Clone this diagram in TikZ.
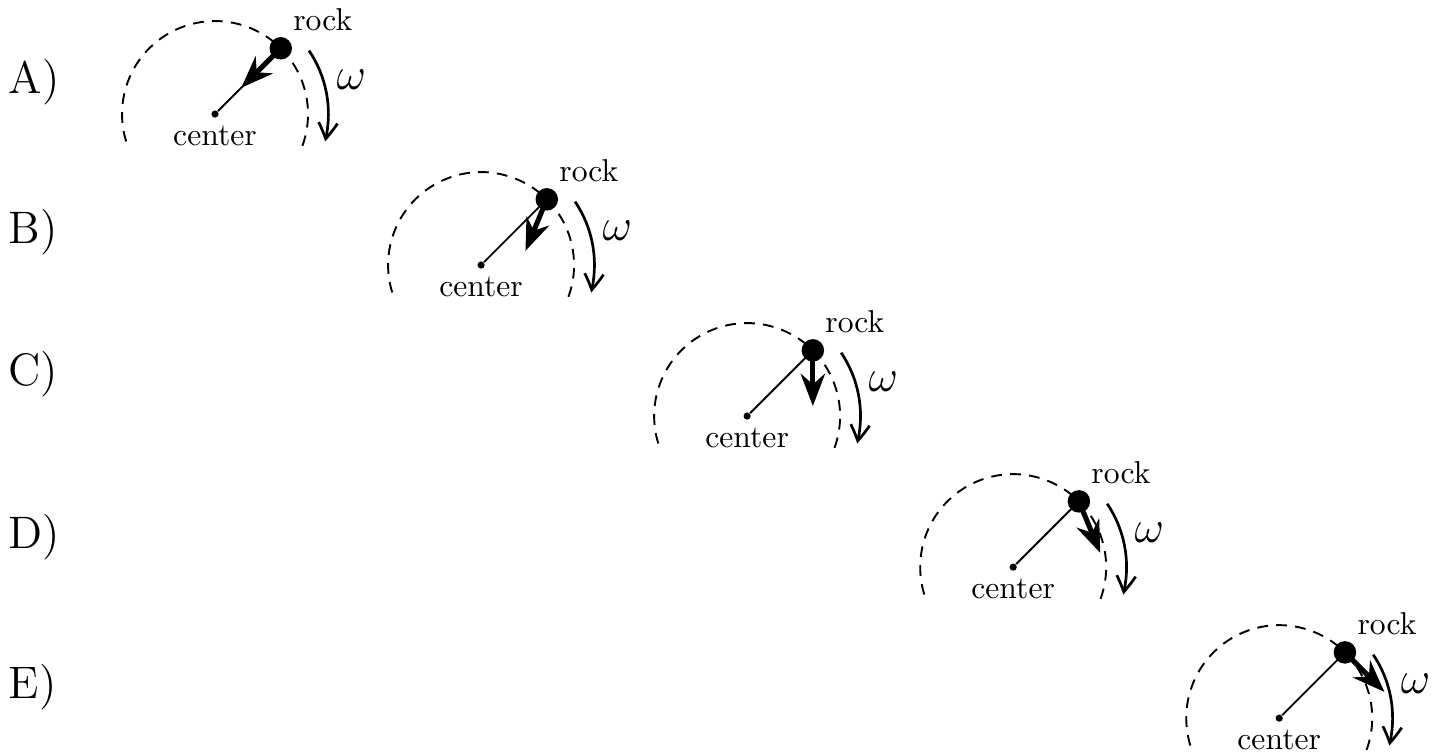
\documentclass[tikz,border=0pt]{standalone}
\usetikzlibrary{arrows.meta,bending,calc}
\begin{document}
\begin{tikzpicture}[
    orbit/.style={semithick, dash pattern=on 3.4pt off 2.6pt},
    centerdot/.style={circle, fill, inner sep=0pt, minimum size=0.08cm},
    rockdot/.style={circle, fill, inner sep=0pt, minimum size=0.25cm},
    velarrow/.style={line width=1.6pt, -{Stealth}},
    spinarrow/.style={line width=0.85pt, -{Straight Barb[length=1.8mm, width=2.1mm, bend]}},
    caselabel/.style={font=\Large, anchor=base west, inner sep=0pt}
  ]
  \useasboundingbox (0,0) rectangle (15.933,-8.389);
  \foreach \lab/\ang/\base [count=\i from 0] in {A/225/93, B/247.5/243, C/270/385, D/292.5/548, E/315/698}{
    \node[caselabel] (lab\i) at (0.09,-\base/90) {\lab)};
    \node[centerdot] (c\i) at (2.389+2.956*\i, -1.267-1.678*\i) {};
    \draw[orbit] ($(c\i)+(-20:1.033)$) arc[start angle=-20, end angle=200, radius=1.033];
    \node[rockdot] (r\i) at ($(c\i)+(45:1.033)$) {};
    \draw[semithick] (c\i) -- (r\i.center);
    \coordinate (v\i) at ($(r\i)+(\ang:0.62)$);
    \draw[velarrow] (r\i.center) -- (v\i);
    \node (clab\i) at ($(c\i)+(0,-0.24)$) {center};
    \node (rlab\i) at ($(r\i)+(0.467,0.322)$) {rock};
    \coordinate (ws\i) at ($(c\i)+(34:1.26)$);
    \draw[spinarrow] (ws\i) arc[start angle=34, end angle=-14, radius=1.26];
    \node[font=\Large] (w\i) at ($(c\i)+(14:1.56)$) {$\omega$};
  }
\end{tikzpicture}
\end{document}
